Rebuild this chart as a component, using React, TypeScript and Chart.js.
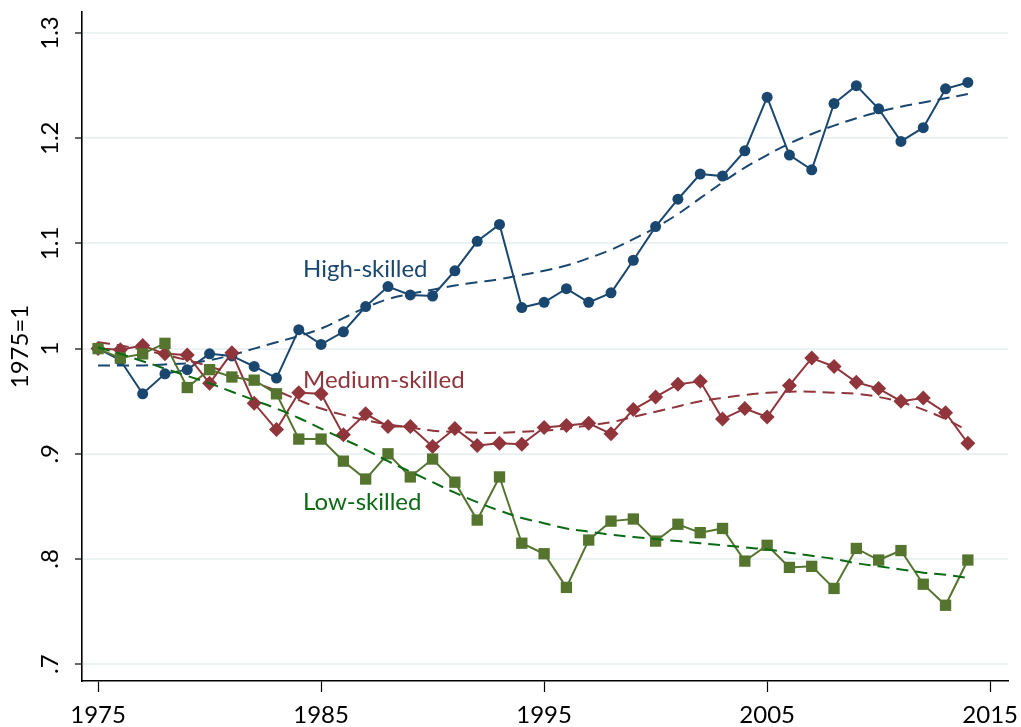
import React, { useEffect, useRef } from "react";
import { Chart, registerables } from "chart.js";

Chart.register(...registerables);

const years = [
  1975, 1976, 1977, 1978, 1979, 1980, 1981, 1982, 1983, 1984,
  1985, 1986, 1987, 1988, 1989, 1990, 1991, 1992, 1993, 1994,
  1995, 1996, 1997, 1998, 1999, 2000, 2001, 2002, 2003, 2004,
  2005, 2006, 2007, 2008, 2009, 2010, 2011, 2012, 2013, 2014,
];

const highSkilled = [
  1.0, 0.989, 0.957, 0.976, 0.98, 0.995, 0.993, 0.983, 0.972, 1.018,
  1.004, 1.016, 1.04, 1.059, 1.051, 1.05, 1.074, 1.102, 1.118, 1.039,
  1.044, 1.057, 1.044, 1.053, 1.084, 1.116, 1.142, 1.166, 1.164, 1.188,
  1.239, 1.184, 1.17, 1.233, 1.25, 1.228, 1.197, 1.21, 1.247, 1.253,
];

const mediumSkilled = [
  1.0, 0.999, 1.003, 0.995, 0.994, 0.967, 0.996, 0.948, 0.923, 0.958,
  0.957, 0.918, 0.938, 0.926, 0.926, 0.907, 0.924, 0.908, 0.91, 0.909,
  0.925, 0.927, 0.929, 0.919, 0.942, 0.954, 0.966, 0.969, 0.933, 0.943,
  0.935, 0.965, 0.991, 0.983, 0.968, 0.962, 0.95, 0.953, 0.939, 0.91,
];

const lowSkilled = [
  1.0, 0.991, 0.995, 1.005, 0.963, 0.98, 0.973, 0.97, 0.957, 0.914,
  0.914, 0.893, 0.876, 0.9, 0.878, 0.895, 0.873, 0.837, 0.878, 0.815,
  0.805, 0.773, 0.818, 0.836, 0.838, 0.817, 0.833, 0.825, 0.829, 0.798,
  0.813, 0.792, 0.793, 0.772, 0.81, 0.799, 0.808, 0.776, 0.756, 0.799,
];

const highTrend = [
  0.984, 0.984, 0.984, 0.985, 0.986, 0.989, 0.994, 1.0, 1.006, 1.012,
  1.019, 1.029, 1.039, 1.047, 1.052, 1.056, 1.06, 1.063, 1.066, 1.07,
  1.074, 1.079, 1.086, 1.094, 1.104, 1.115, 1.128, 1.143, 1.158, 1.172,
  1.184, 1.195, 1.204, 1.212, 1.219, 1.225, 1.23, 1.234, 1.238, 1.242,
];

const mediumTrend = [
  1.006, 1.003, 0.999, 0.994, 0.989, 0.983, 0.976, 0.968, 0.96, 0.951,
  0.943, 0.937, 0.932, 0.928, 0.925, 0.922, 0.921, 0.92, 0.92, 0.921,
  0.922, 0.924, 0.927, 0.93, 0.935, 0.94, 0.945, 0.95, 0.953, 0.956,
  0.958, 0.959, 0.959, 0.958, 0.957, 0.954, 0.949, 0.942, 0.933, 0.922,
];

const lowTrend = [
  1.001, 0.995, 0.988, 0.981, 0.974, 0.967, 0.959, 0.951, 0.943, 0.934,
  0.924, 0.914, 0.904, 0.893, 0.883, 0.873, 0.863, 0.854, 0.846, 0.839,
  0.834, 0.829, 0.826, 0.823, 0.821, 0.819, 0.817, 0.815, 0.813, 0.811,
  0.809, 0.806, 0.803, 0.8, 0.796, 0.793, 0.79, 0.787, 0.785, 0.782,
];

const xTickValues = [1975, 1985, 1995, 2005, 2015];
const yTickValues = [0.7, 0.8, 0.9, 1.0, 1.1, 1.2, 1.3];
const yTickLabels = [".7", ".8", ".9", "1", "1.1", "1.2", "1.3"];
const seriesLabels = ["High-skilled", "Medium-skilled", "Low-skilled"];
const yAxisTitle = "1975=1";

const NAVY = "#1a476f";
const MAROON = "#90353b";
const GREEN = "#55752f";
const DKGREEN = "#0b6a14";
const GRID = "#eaf2f3";
const FONT = "Lato, 'Open Sans', sans-serif";

const toPts = (vals: number[]) => vals.map((v, i) => ({ x: years[i], y: v }));

const textPlugin = {
  id: "textPlugin",
  afterDraw(chart: any) {
    const ctx = chart.ctx;
    const xs = chart.scales.x;
    const ys = chart.scales.y;
    ctx.save();
    ctx.fillStyle = "#000";
    ctx.font = `24px ${FONT}`;
    // y tick labels (rotated)
    yTickValues.forEach((v, i) => {
      const py = ys.getPixelForValue(v);
      ctx.save();
      ctx.translate(58, py);
      ctx.rotate(-Math.PI / 2);
      ctx.textAlign = "center";
      ctx.textBaseline = "alphabetic";
      ctx.fillText(yTickLabels[i], 0, 0);
      ctx.restore();
    });
    // y title
    ctx.save();
    ctx.translate(28, (chart.chartArea.top + chart.chartArea.bottom) / 2);
    ctx.rotate(-Math.PI / 2);
    ctx.textAlign = "center";
    ctx.textBaseline = "alphabetic";
    ctx.fillText(yAxisTitle, 0, 0);
    ctx.restore();
    // x tick labels
    ctx.textAlign = "center";
    ctx.textBaseline = "alphabetic";
    xTickValues.forEach((v) => {
      ctx.fillText(String(v), xs.getPixelForValue(v), 723);
    });
    // series labels
    const labelAnchors = [
      { x: 1984.19, y: 1.0676, color: NAVY },
      { x: 1984.19, y: 0.9629, color: MAROON },
      { x: 1984.19, y: 0.8467, color: DKGREEN },
    ];
    ctx.textAlign = "left";
    seriesLabels.forEach((lab, i) => {
      const a = labelAnchors[i];
      ctx.fillStyle = a.color;
      ctx.fillText(lab, xs.getPixelForValue(a.x), ys.getPixelForValue(a.y));
    });
    ctx.restore();
  },
};

export default function App() {
  const ref = useRef<HTMLCanvasElement | null>(null);
  useEffect(() => {
    document.body.style.margin = "0";
    const canvas = ref.current;
    if (!canvas) return;
    const lineDs = (label: string, vals: number[], color: string, style: string, radius: number, order: number) => ({
      label,
      data: toPts(vals),
      borderColor: color,
      backgroundColor: color,
      borderWidth: 2,
      pointStyle: style,
      pointRadius: radius,
      pointBorderWidth: 0,
      pointBackgroundColor: color,
      order,
    });
    const trendDs = (label: string, vals: number[], color: string, order: number) => ({
      label,
      data: toPts(vals),
      borderColor: color,
      borderWidth: 2,
      borderDash: [12, 7],
      pointRadius: 0,
      tension: 0.4,
      order,
    });
    const chart = new Chart(canvas, {
      type: "line",
      data: {
        datasets: [
          trendDs("Low trend", lowTrend, DKGREEN, 0),
          lineDs("Low-skilled", lowSkilled, GREEN, "rect", 8, 1),
          trendDs("Medium trend", mediumTrend, MAROON, 2),
          lineDs("Medium-skilled", mediumSkilled, MAROON, "rectRot", 7.5, 3),
          trendDs("High trend", highTrend, NAVY, 4),
          lineDs("High-skilled", highSkilled, NAVY, "circle", 5.5, 5),
        ] as any,
      },
      options: {
        responsive: false,
        animation: false,
        layout: { padding: { top: 12, right: 13, left: 0, bottom: 0 } },
        plugins: { legend: { display: false }, tooltip: { enabled: false } },
        scales: {
          x: {
            type: "linear",
            min: 1974.28,
            max: 2015.8,
            afterBuildTicks: (s: any) => {
              s.ticks = xTickValues.map((v) => ({ value: v }));
            },
            afterFit: (s: any) => {
              s.height = 46;
            },
            ticks: { display: false },
            grid: {
              drawOnChartArea: false,
              drawTicks: true,
              tickLength: 11,
              tickColor: "#000",
              tickWidth: 1.2,
            },
            border: { color: "#000", width: 1.6 },
          },
          y: {
            type: "linear",
            min: 0.684,
            max: 1.32,
            afterBuildTicks: (s: any) => {
              s.ticks = yTickValues.map((v) => ({ value: v }));
            },
            afterFit: (s: any) => {
              s.width = 82;
            },
            ticks: { display: false },
            grid: {
              color: GRID,
              lineWidth: 2,
              drawTicks: true,
              tickLength: 7,
              tickColor: "#000",
              tickWidth: 1.2,
            },
            border: { color: "#000", width: 1.6 },
          },
        },
      },
      plugins: [textPlugin],
    } as any);
    return () => chart.destroy();
  }, []);
  return <canvas ref={ref} width={1021} height={727} style={{ display: "block" }} />;
}
